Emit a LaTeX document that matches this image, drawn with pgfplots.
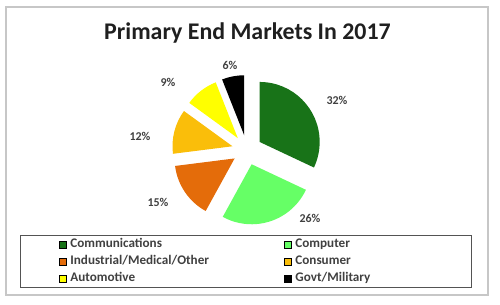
\documentclass[border=0pt]{standalone}
\usepackage{fontspec}
\setmainfont{Carlito}
\usepackage{pgfplots}
\usepackage{pgfplotstable}
\pgfplotsset{compat=1.18}
\definecolor{c0}{RGB}{24,115,24}
\definecolor{c1}{RGB}{102,255,102}
\definecolor{c2}{RGB}{228,108,10}
\definecolor{c3}{RGB}{250,190,10}
\definecolor{c4}{RGB}{255,255,0}
\definecolor{c5}{RGB}{0,0,0}
\definecolor{txt}{RGB}{64,64,64}

% slice values (percent) and label positions (pixel coordinates)
\pgfplotstableread[col sep=comma]{
name,value,lx,ly
Communications,32,337,204
Computer,26,310,86
Industrial/Medical/Other,15,158,102
Consumer,12,140,168
Automotive,9,168,222
Govt/Military,6,230,239
}\pietable

\pgfplotsset{legsq/.style={legend image code/.code={\path[draw=none,fill=none] (0bp,-3.5bp) rectangle (50bp,3.5bp); \fill[##1] (39bp,-3.5bp) rectangle (46bp,3.5bp);}}}
\newcommand\lblfont{\fontsize{12}{14}\selectfont\bfseries}
\def\cx{247}\def\cy{154}\def\rad{60}\def\expl{15}
\gdef\cum{0}

\begin{document}
\begin{tikzpicture}
\begin{axis}[x=1bp,y=1bp,xmin=0,xmax=500,ymin=0,ymax=304,hide axis,clip=false,
  legend columns=2, legend cell align=left,
  legend style={at={(axis cs:20,69)},anchor=north west,draw=txt!90,line width=0.8bp,
    inner xsep=0pt,inner ysep=0.5bp,fill=none,
    nodes={inner xsep=0pt,inner ysep=2bp,text height=9.5bp,text depth=3.5bp,text=txt,
      font=\fontsize{13.2}{14}\selectfont\bfseries}}]
\path (axis cs:0,0) rectangle (axis cs:500,304);
\draw[black!22, line width=1.5bp] (axis cs:6,9) rectangle (axis cs:488,297);
\node[font=\fontsize{24}{28}\selectfont\bfseries, text=black!88] at (axis cs:247.5,271) {Primary End Markets In 2017};
\pgfplotsinvokeforeach{0,...,5}{
  \pgfplotstablegetelem{#1}{value}\of\pietable \let\val\pgfplotsretval
  \pgfplotstablegetelem{#1}{lx}\of\pietable \let\lx\pgfplotsretval
  \pgfplotstablegetelem{#1}{ly}\of\pietable \let\ly\pgfplotsretval
  \pgfmathsetmacro\sa{90-3.6*\cum}
  \pgfmathsetmacro\ea{\sa-3.6*\val}
  \pgfmathsetmacro\ma{(\sa+\ea)/2}
  \pgfmathsetmacro\nc{\cum+\val}
  \global\let\cum\nc
  \edef\cmd{\noexpand\fill[c#1] (axis cs:\cx,\cy) ++(\ma:\expl bp) -- ++(\sa:\rad bp) arc[start angle=\sa, end angle=\ea, radius=\rad bp] -- cycle;
    \noexpand\node[font=\noexpand\lblfont, text=txt] at (axis cs:\lx,\ly) {\val\noexpand\%};}
  \cmd
}
\addlegendimage{legsq,fill=c0}\addlegendentry{\makebox[175bp][l]{Communications}}
\addlegendimage{legsq,fill=c1}\addlegendentry{\makebox[176bp][l]{Computer}}
\addlegendimage{legsq,fill=c2}\addlegendentry{\makebox[175bp][l]{Industrial/Medical/Other}}
\addlegendimage{legsq,fill=c3}\addlegendentry{\makebox[176bp][l]{Consumer}}
\addlegendimage{legsq,fill=c4}\addlegendentry{\makebox[175bp][l]{Automotive}}
\addlegendimage{legsq,fill=c5}\addlegendentry{\makebox[176bp][l]{Govt/Military}}
\end{axis}
\end{tikzpicture}
\end{document}
